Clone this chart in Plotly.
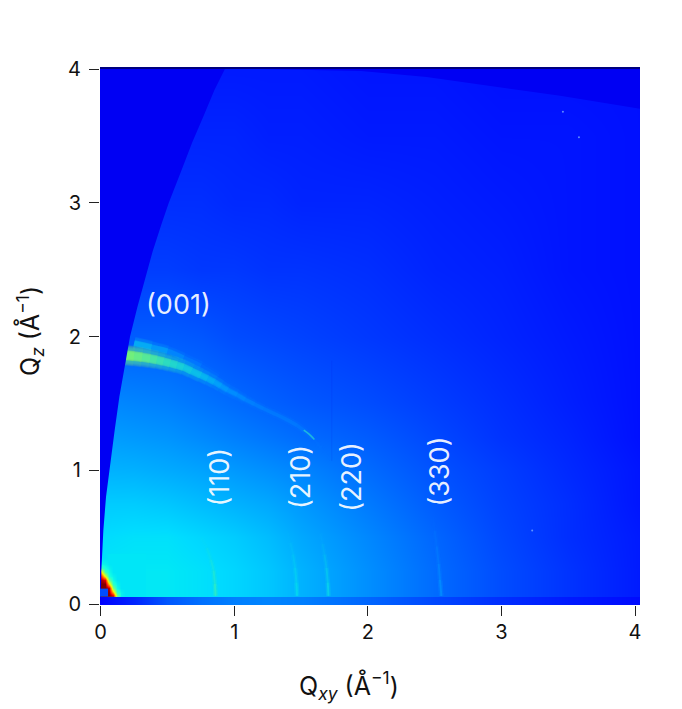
"""GIWAXS detector map, Qxy against Qz."""

import plotly.colors as pc
import plotly.graph_objects as go

# colour position (0-1 on the jet scale)
qxy_grid = [-0.01, 0.25, 0.5, 0.75, 1, 1.25, 1.5, 2, 2.5, 3, 3.5, 4.05]
qz_grid = [-0.02, 0.053, 0.062, 0.25, 0.5, 0.75, 1, 1.25, 1.5, 2, 2.5, 3, 3.5, 4.0, 4.002, 4.04]
level_grid = [
    [0.125, 0.16, 0.21, 0.235, 0.25, 0.255, 0.25, 0.225, 0.195, 0.17, 0.15, 0.135],
    [0.125, 0.16, 0.21, 0.235, 0.25, 0.255, 0.25, 0.225, 0.195, 0.17, 0.15, 0.135],
    [0.35, 0.352, 0.352, 0.345, 0.335, 0.32, 0.3, 0.265, 0.23, 0.2, 0.175, 0.15],
    [0.35, 0.352, 0.352, 0.345, 0.335, 0.32, 0.3, 0.265, 0.23, 0.2, 0.175, 0.15],
    [0.34, 0.345, 0.345, 0.335, 0.325, 0.31, 0.29, 0.258, 0.225, 0.195, 0.17, 0.15],
    [0.325, 0.325, 0.32, 0.31, 0.3, 0.29, 0.275, 0.245, 0.215, 0.19, 0.17, 0.145],
    [0.3, 0.298, 0.292, 0.285, 0.275, 0.265, 0.255, 0.23, 0.205, 0.185, 0.165, 0.145],
    [0.28, 0.275, 0.27, 0.26, 0.25, 0.24, 0.23, 0.215, 0.195, 0.175, 0.16, 0.14],
    [0.26, 0.255, 0.25, 0.24, 0.23, 0.22, 0.212, 0.2, 0.185, 0.17, 0.155, 0.14],
    [0.215, 0.215, 0.215, 0.21, 0.2, 0.195, 0.19, 0.18, 0.17, 0.16, 0.15, 0.14],
    [0.185, 0.185, 0.185, 0.18, 0.18, 0.175, 0.175, 0.17, 0.16, 0.155, 0.145, 0.14],
    [0.17, 0.17, 0.17, 0.17, 0.165, 0.165, 0.16, 0.16, 0.155, 0.15, 0.145, 0.14],
    [0.16, 0.16, 0.16, 0.16, 0.16, 0.155, 0.155, 0.15, 0.15, 0.145, 0.145, 0.14],
    [0.15, 0.15, 0.15, 0.15, 0.15, 0.15, 0.15, 0.145, 0.145, 0.14, 0.14, 0.14],
    [0.0, 0.0, 0.0, 0.0, 0.0, 0.0, 0.0, 0.0, 0.0, 0.0, 0.0, 0.0],
    [0.0, 0.0, 0.0, 0.0, 0.0, 0.0, 0.0, 0.0, 0.0, 0.0, 0.0, 0.0],
]

# direct beam corner
beam_qxy = [-0.01, 0.03, 0.06, 0.09, 0.12, 0.15, 0.18, 0.22, 0.3]
beam_qz = [0.056, 0.062, 0.09, 0.12, 0.15, 0.18, 0.21, 0.24, 0.27, 0.3, 0.35]
beam_level = [
    [1, 1, 1, 0.95, 0.5, 0.36, 0.35, 0.35, 0.35],
    [1, 1, 1, 0.95, 0.5, 0.36, 0.35, 0.35, 0.35],
    [1, 1, 0.98, 0.7, 0.4, 0.36, 0.35, 0.35, 0.35],
    [1, 1, 0.95, 0.5, 0.37, 0.35, 0.35, 0.35, 0.35],
    [1, 1, 0.68, 0.4, 0.36, 0.35, 0.35, 0.35, 0.35],
    [1, 0.92, 0.48, 0.37, 0.35, 0.35, 0.35, 0.35, 0.35],
    [0.98, 0.62, 0.38, 0.36, 0.35, 0.35, 0.35, 0.35, 0.35],
    [0.8, 0.43, 0.37, 0.35, 0.35, 0.35, 0.35, 0.35, 0.35],
    [0.45, 0.38, 0.36, 0.35, 0.35, 0.35, 0.35, 0.35, 0.35],
    [0.37, 0.36, 0.35, 0.35, 0.35, 0.35, 0.35, 0.35, 0.35],
    [0.34, 0.345, 0.35, 0.35, 0.35, 0.35, 0.35, 0.35, 0.35],
]

# shadow edges of the detector
wedge_qxy = [0, 0.005, 0.02, 0.04, 0.07, 0.105, 0.14, 0.18, 0.22, 0.275, 0.335, 0.39, 0.455, 0.51, 0.6, 0.685, 0.775, 0.85, 0.93]
wedge_qz = [0, 0.25, 0.55, 0.8, 1.05, 1.3, 1.55, 1.78, 2.0, 2.22, 2.44, 2.64, 2.84, 3.0, 3.23, 3.45, 3.66, 3.84, 4.0]
corner_qxy = [1.2, 1.95, 2.44, 2.94, 3.44, 4.05]
corner_qz = [4.0, 3.985, 3.94, 3.87, 3.8, 3.7]

# beam stop box
stop_qxy = [-0.01, 0.055, 0.055, -0.01]
stop_qz = [0.056, 0.056, 0.115, 0.115]

# (001) arc: main lobe with colour position and strength at each point, then the fainter lobe above it
arc_001_qxy = [0.19, 0.25, 0.31, 0.37, 0.42, 0.47, 0.52, 0.57, 0.62, 0.68, 0.75, 0.8, 0.85, 0.9, 0.95, 1.02, 1.08, 1.15,
               1.22, 1.35, 1.47, 1.53, 1.59, 1.65, 1.72]
arc_001_qz = [1.86, 1.853, 1.845, 1.835, 1.825, 1.813, 1.8, 1.786, 1.77, 1.742, 1.71, 1.686, 1.66, 1.63, 1.6, 1.565,
              1.53, 1.495, 1.46, 1.4, 1.335, 1.29, 1.24, 1.165, 1.08]
arc_001_level = [0.56, 0.56, 0.55, 0.535, 0.52, 0.5, 0.48, 0.46, 0.44, 0.425, 0.41, 0.395, 0.38, 0.37, 0.36, 0.345,
                 0.33, 0.32, 0.31, 0.3, 0.31, 0.32, 0.33, 0.3, 0.27]
arc_001_alpha = [0.8, 0.8, 0.8, 0.78, 0.75, 0.72, 0.7, 0.68, 0.65, 0.62, 0.6, 0.55, 0.5, 0.45, 0.4, 0.35, 0.3, 0.25,
                 0.2, 0.15, 0.2, 0.25, 0.3, 0.22, 0.15]
upper_qxy = [0.25, 0.38, 0.5, 0.62, 0.75, 0.88, 1.0]
upper_qz = [1.95, 1.92, 1.89, 1.84, 1.78, 1.7, 1.62]
upper_level = [0.38, 0.38, 0.37, 0.36, 0.34, 0.32, 0.3]
upper_alpha = [0.5, 0.45, 0.4, 0.3, 0.25, 0.15, 0.08]
streak_qxy = [1.52, 1.56, 1.6]
streak_qz = [1.3, 1.27, 1.23]

# in-plane rings
ring_110_qxy = [0.86, 0.855, 0.845, 0.825, 0.795, 0.75]
ring_110_qz = [0.06, 0.15, 0.25, 0.33, 0.42, 0.5]
ring_210_qxy = [1.47, 1.465, 1.455, 1.44, 1.42, 1.395]
ring_210_qz = [0.06, 0.16, 0.27, 0.37, 0.46, 0.55]
ring_220_qxy = [1.705, 1.7, 1.69, 1.675, 1.66, 1.645]
ring_220_qz = [0.06, 0.16, 0.27, 0.37, 0.45, 0.53]
ring_330_qxy = [2.55, 2.54, 2.53, 2.515, 2.5, 2.49]
ring_330_qz = [0.06, 0.18, 0.3, 0.43, 0.55, 0.65]
ring_fade = [0.55, 0.5, 0.38, 0.27, 0.17, 0.08]

spot_qxy = [3.23, 3.58, 3.46]
spot_qz = [0.55, 3.49, 3.68]
seam_qxy = [1.73, 1.73]
seam_qz = [1.07, 1.82]

labels = ["(001)", "(110)", "(210)", "(220)", "(330)"]
label_qxy = [0.58, 0.89, 1.5, 1.88, 2.54]
label_qz = [2.24, 0.95, 0.95, 0.95, 0.99]
label_angle = [0, -90, -90, -90, -90]

tick_vals = [0, 1, 2, 3, 4]

JET = [
    [0, "rgb(0,0,127)"], [0.11, "rgb(0,0,255)"], [0.125, "rgb(0,0,255)"],
    [0.34, "rgb(0,219,255)"], [0.35, "rgb(0,230,247)"], [0.375, "rgb(20,255,227)"],
    [0.64, "rgb(238,255,8)"], [0.66, "rgb(255,236,0)"], [0.89, "rgb(255,19,0)"],
    [0.91, "rgb(250,0,0)"], [1, "rgb(127,0,0)"],
]
FONT = "Inter"
INK = "#111"


def rgba(level, alpha):
    rgb = pc.sample_colorscale(JET, [level])[0]
    return rgb.replace("rgb(", "rgba(").replace(")", f",{round(alpha, 3)})")


def add_line(fig, qxy, qz, level, alpha, width):
    fig.add_trace(go.Scatter(x=qxy, y=qz, mode="lines", hoverinfo="skip",
                             line=dict(color=rgba(level, alpha), width=width, shape="spline")))


def add_patch(fig, qxy, qz, level):
    fig.add_trace(go.Scatter(x=qxy, y=qz, mode="lines", fill="toself", hoverinfo="skip",
                             fillcolor=rgba(level, 1), line=dict(width=0)))


def add_fading(fig, qxy, qz, levels, alphas, wide, core, flare=0.0, gain=1.0):
    # stacked lines of falling length: each one ends a step earlier, so the arc fades out without joints
    for stop in range(len(qxy), 1, -1):
        grow = (len(qxy) - stop) * flare
        add_line(fig, qxy[:stop], qz[:stop], levels[stop - 1], alphas[stop - 1] * 0.15 * gain, wide + grow)
        add_line(fig, qxy[:stop], qz[:stop], levels[stop - 1], alphas[stop - 1] * 0.3 * gain, core + grow * 0.5)


fig = go.Figure()
common = dict(colorscale=JET, zmin=0, zmax=1, zsmooth="best", showscale=False)
fig.add_trace(go.Heatmap(x=qxy_grid, y=qz_grid, z=level_grid, **common))
fig.add_trace(go.Heatmap(x=beam_qxy, y=beam_qz, z=beam_level, **common))

add_fading(fig, upper_qxy, upper_qz, upper_level, upper_alpha, 8, 4, 1.0)
add_fading(fig, arc_001_qxy, arc_001_qz, arc_001_level, arc_001_alpha, 6, 3, 0.65, 0.55)
add_line(fig, streak_qxy, streak_qz, 0.42, 0.5, 1.5)

# the detector shadow goes over the arcs, which start right at its edge
add_patch(fig, [-0.01] + wedge_qxy + [-0.01], [0.0] + wedge_qz + [4.0], 0.1)
add_patch(fig, corner_qxy + [4.05], corner_qz + [4.0], 0.1)
add_patch(fig, stop_qxy, stop_qz, 0.2)

for qxy, qz, tone in [(ring_110_qxy, ring_110_qz, 0.46), (ring_210_qxy, ring_210_qz, 0.37),
                      (ring_220_qxy, ring_220_qz, 0.38), (ring_330_qxy, ring_330_qz, 0.3)]:
    add_fading(fig, qxy, qz, [tone] * len(qxy), ring_fade, 5, 2)

add_line(fig, seam_qxy, seam_qz, 0.08, 0.1, 1)
fig.add_trace(go.Scatter(x=spot_qxy, y=spot_qz, mode="markers", hoverinfo="skip",
                         marker=dict(color="rgba(120,170,255,0.8)", size=2)))

for text, qxy, qz, angle in zip(labels, label_qxy, label_qz, label_angle):
    fig.add_annotation(x=qxy, y=qz, text=text, textangle=angle, showarrow=False,
                       font=dict(family=FONT, size=27, color="rgba(255,255,255,0.92)"))

title_font = dict(family=FONT, size=25, color=INK)
fig.add_annotation(x=0.461, y=-0.15, xref="paper", yref="paper", xanchor="center", yanchor="middle",
                   showarrow=False, font=title_font, text="Q<sub><i>xy</i></sub> (Å<sup>−1</sup>)")
fig.add_annotation(x=-0.13, y=0.509, xref="paper", yref="paper", xanchor="center", yanchor="middle",
                   showarrow=False, font=title_font, textangle=-90, text="Q<sub><i>z</i></sub> (Å<sup>−1</sup>)")

axis = dict(tickmode="array", tickvals=tick_vals, ticks="outside", ticklen=10, tickwidth=1,
            tickcolor="#222", showgrid=False, zeroline=False, showline=False,
            tickfont=dict(family=FONT, size=20, color=INK))
fig.update_xaxes(range=[-0.005, 4.037], ticklabelstandoff=-1, **axis)
fig.update_yaxes(range=[-0.0075, 4.015], ticklabelstandoff=4, **axis)
fig.update_layout(width=682, height=709, showlegend=False, plot_bgcolor="white", paper_bgcolor="white",
                  margin=dict(l=92, r=50, t=59, b=112))

fig.write_html("out.html")
